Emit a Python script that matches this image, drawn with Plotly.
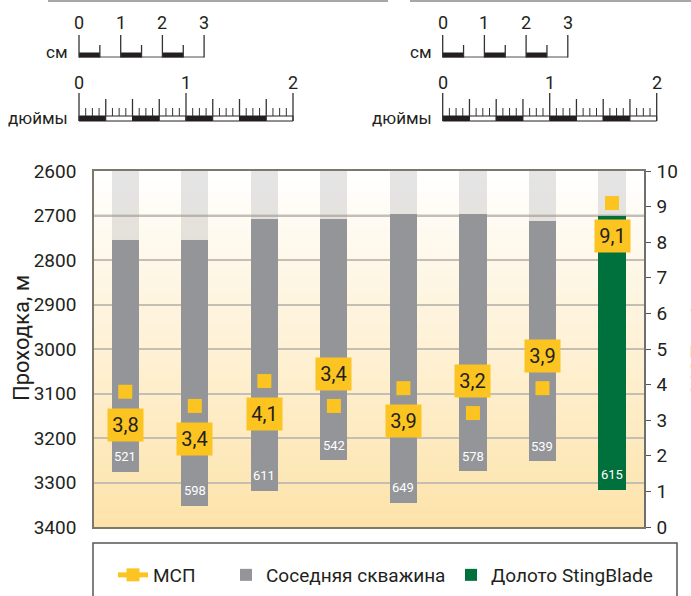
import plotly.graph_objects as go

# ---------------- data ----------------
well_pos = [0, 1, 2, 3, 4, 5, 6, 7]
start_depth = [2755, 2754, 2708, 2708, 2697, 2697, 2713, 2701]   # м, top of interval
footage = [521, 598, 611, 542, 649, 578, 539, 615]               # м, drilled interval
rop = [3.8, 3.4, 4.1, 3.4, 3.9, 3.2, 3.9, 9.1]                   # МСП, м/ч
is_stingblade = [False, False, False, False, False, False, False, True]
depth_ticks = [2600, 2700, 2800, 2900, 3000, 3100, 3200, 3300, 3400]
rop_ticks = [0, 1, 2, 3, 4, 5, 6, 7, 8, 9, 10]
cm_labels = ["0", "1", "2", "3"]
inch_labels = ["0", "1", "2"]
series_names = ["МСП", "Соседняя скважина", "Долото StingBlade"]
y_title = "Проходка, м"
y2_title = "МСП, м/ч"

# ---------------- style ----------------
FONT = "Roboto, Liberation Sans, sans-serif"
TXT = "#231f20"
YELLOW = "#fcc421"
GRAY = "#939598"
GREEN = "#00703c"
W, H = 691, 596
PL, PT, PW, PH = 94, 171, 550, 356

def X(px):
    return (px - PL) / PW

def Y(py):
    return (PT + PH - py) / PH

fig = go.Figure()

# light column above each interval
fig.add_trace(go.Bar(
    x=well_pos, base=[depth_ticks[0]] * len(well_pos),
    y=[s - depth_ticks[0] for s in start_depth],
    width=0.39, marker=dict(color="rgba(150,153,156,0.25)", line=dict(width=0)),
    showlegend=False, hoverinfo="skip"))

# neighbour wells
nx = [x for x, g in zip(well_pos, is_stingblade) if not g]
fig.add_trace(go.Bar(
    x=nx, base=[s for s, g in zip(start_depth, is_stingblade) if not g],
    y=[f for f, g in zip(footage, is_stingblade) if not g],
    width=0.39, marker=dict(color=GRAY, line=dict(width=0)),
    name=series_names[1], legend="legend2"))
# StingBlade
gx = [x for x, g in zip(well_pos, is_stingblade) if g]
fig.add_trace(go.Bar(
    x=gx, base=[s for s, g in zip(start_depth, is_stingblade) if g],
    y=[f for f, g in zip(footage, is_stingblade) if g],
    width=0.39, marker=dict(color=GREEN, line=dict(width=0)),
    name=series_names[2], legend="legend3"))

# ROP markers
fig.add_trace(go.Scatter(
    x=well_pos, y=rop, yaxis="y2", mode="markers",
    marker=dict(symbol="square", size=14, color=YELLOW),
    showlegend=False))
# legend entry for ROP
fig.add_trace(go.Scatter(
    x=[None], y=[None], yaxis="y2", mode="lines+markers",
    line=dict(color=YELLOW, width=5),
    marker=dict(symbol="square", size=13, color=YELLOW),
    name=series_names[0], legend="legend"))

annotations = []
shapes = []

# ROP value boxes
box_above = [False, False, False, True, False, True, True, False]
for x, v, up in zip(well_pos, rop, box_above):
    annotations.append(dict(
        x=x, y=v, xref="x", yref="y2", text=f"{v:.1f}".replace(".", ","),
        showarrow=False, yshift=32 if up else -33, bgcolor=YELLOW,
        width=35, height=32, borderpad=0,
        font=dict(family=FONT, size=20, color=TXT)))

# footage labels
for x, s, f in zip(well_pos, start_depth, footage):
    annotations.append(dict(
        x=x, y=s + f, xref="x", yref="y", text=str(f), showarrow=False,
        yshift=15, font=dict(family=FONT, size=13, color="white")))

# background gradient (below grid)
N = 90
c0 = (255, 255, 255)
c1 = (253, 227, 170)
for i in range(N):
    t = (i + 0.5) / N
    col = "rgb(%d,%d,%d)" % tuple(round(a + (b - a) * t) for a, b in zip(c0, c1))
    shapes.append(dict(type="rect", xref="paper", yref="paper", layer="below",
                       x0=0, x1=1, y0=1 - (i + 1.0) / N - 0.002, y1=1 - i / N,
                       fillcolor=col, line=dict(width=0)))

# darker reference line at 2700
shapes.append(dict(type="line", xref="paper", yref="y", layer="between",
                   x0=0, x1=1, y0=depth_ticks[1], y1=depth_ticks[1],
                   line=dict(color="#8c8c8c", width=1.5)))

# ---- scale bars (decoration) ----
def pline(x0, y0, x1, y1, color="#333333", w=1.3):
    shapes.append(dict(type="line", xref="paper", yref="paper",
                       x0=X(x0), y0=Y(y0), x1=X(x1), y1=Y(y1),
                       line=dict(color=color, width=w)))

def prect(x0, y0, x1, y1, fill, lc=None, w=0):
    shapes.append(dict(type="rect", xref="paper", yref="paper",
                       x0=X(x0), y0=Y(y0), x1=X(x1), y1=Y(y1), fillcolor=fill,
                       line=dict(color=lc or fill, width=w)))

def ptext(px, py, text, size=17, anchor="center"):
    annotations.append(dict(x=X(px), y=Y(py), xref="paper", yref="paper",
                            text=text, showarrow=False, xanchor=anchor,
                            yanchor="middle",
                            font=dict(family=FONT, size=size, color=TXT)))

def draw_scale(ox):
    cm = 41.7
    # cm bar
    pline(ox, 57, ox + 3 * cm, 57, "#8a8a8a", 1.3)
    for k in range(3):
        prect(ox + k * cm, 52.5, ox + (k + 0.5) * cm, 57.5, "#231f20")
    for k in range(4):
        pline(ox + k * cm, 35, ox + k * cm, 57.5)
    for k in range(3):
        pline(ox + (k + 0.5) * cm, 45, ox + (k + 0.5) * cm, 57.5)
    for k, lab in enumerate(cm_labels):
        ptext(ox + k * cm, 22, lab, 18)
    ptext(ox - 9, 52, "см", 17, "right")
    # inch bar
    inch = 107.0
    q = inch / 4
    for k in range(8):
        prect(ox + k * q, 116, ox + (k + 1) * q, 121,
              "#231f20" if k % 2 == 0 else "white", "#231f20", 1)
    for k in range(3):
        pline(ox + k * inch, 93, ox + k * inch, 121)
    for k in range(1, 8):
        if k % 4:
            pline(ox + k * q, 99, ox + k * q, 116)
    for k in range(32):
        if k % 4:
            pline(ox + k * inch / 16, 108, ox + k * inch / 16, 116, "#333333", 1)
    for k, lab in enumerate(inch_labels):
        ptext(ox + k * inch, 82, lab, 18)
    ptext(ox - 9, 118, "дюймы", 17, "right")

draw_scale(79)
draw_scale(442.7)
pline(48, 1, 388, 1, "#8a8a8a", 1.6)
pline(410, 1, 700, 1, "#8a8a8a", 1.6)

# legend frame
shapes.append(dict(type="rect", xref="paper", yref="paper",
                   x0=X(93), x1=X(677), y0=Y(543), y1=Y(610),
                   line=dict(color="#555555", width=1.5), fillcolor="rgba(0,0,0,0)"))

# axis titles
annotations.append(dict(x=X(21), y=Y(338), xref="paper", yref="paper",
                        xanchor="center", yanchor="middle",
                        text=y_title, textangle=-90, showarrow=False,
                        font=dict(family=FONT, size=22, color=TXT)))
annotations.append(dict(x=X(699), y=Y(345), xref="paper", yref="paper",
                        xanchor="center", yanchor="middle",
                        text=y2_title, textangle=-90, showarrow=False,
                        font=dict(family=FONT, size=22, color=TXT)))

leg_common = dict(orientation="h", xanchor="left", yanchor="middle",
                  y=Y(575), bgcolor="rgba(0,0,0,0)", borderwidth=0,
                  font=dict(family=FONT, size=19, color=TXT))

fig.update_layout(
    width=W, height=H,
    margin=dict(l=PL, r=W - PL - PW, t=PT, b=H - PT - PH, autoexpand=False),
    paper_bgcolor="white", plot_bgcolor="rgba(0,0,0,0)",
    barmode="overlay", bargap=0,
    shapes=shapes, annotations=annotations,
    legend=dict(x=X(113), **leg_common),
    legend2=dict(x=X(226), **leg_common),
    legend3=dict(x=X(451), **leg_common),
    xaxis=dict(range=[-0.45, 7.46], showticklabels=False, ticks="",
               showgrid=False, zeroline=False, showline=True, mirror=True,
               linecolor="#7d776c", linewidth=1.6, fixedrange=True),
    yaxis=dict(range=[depth_ticks[-1], depth_ticks[0]], tickvals=depth_ticks,
               showgrid=True, gridcolor="#c4bfb5", gridwidth=1.5,
               zeroline=False, showline=True, linecolor="#7d776c", linewidth=1.6,
               ticks="", ticklabelstandoff=12,
               tickfont=dict(family=FONT, size=19, color=TXT)),
    yaxis2=dict(range=[0, 10], tickvals=rop_ticks, overlaying="y", side="right",
                showgrid=False, zeroline=False, showline=True,
                linecolor="#6f6f6f", linewidth=1.6,
                ticks="outside", ticklen=5, tickcolor="#555555", tickwidth=1.3,
                ticklabelstandoff=2,
                tickfont=dict(family=FONT, size=19, color=TXT)),
)

fig.write_html("out.html")
